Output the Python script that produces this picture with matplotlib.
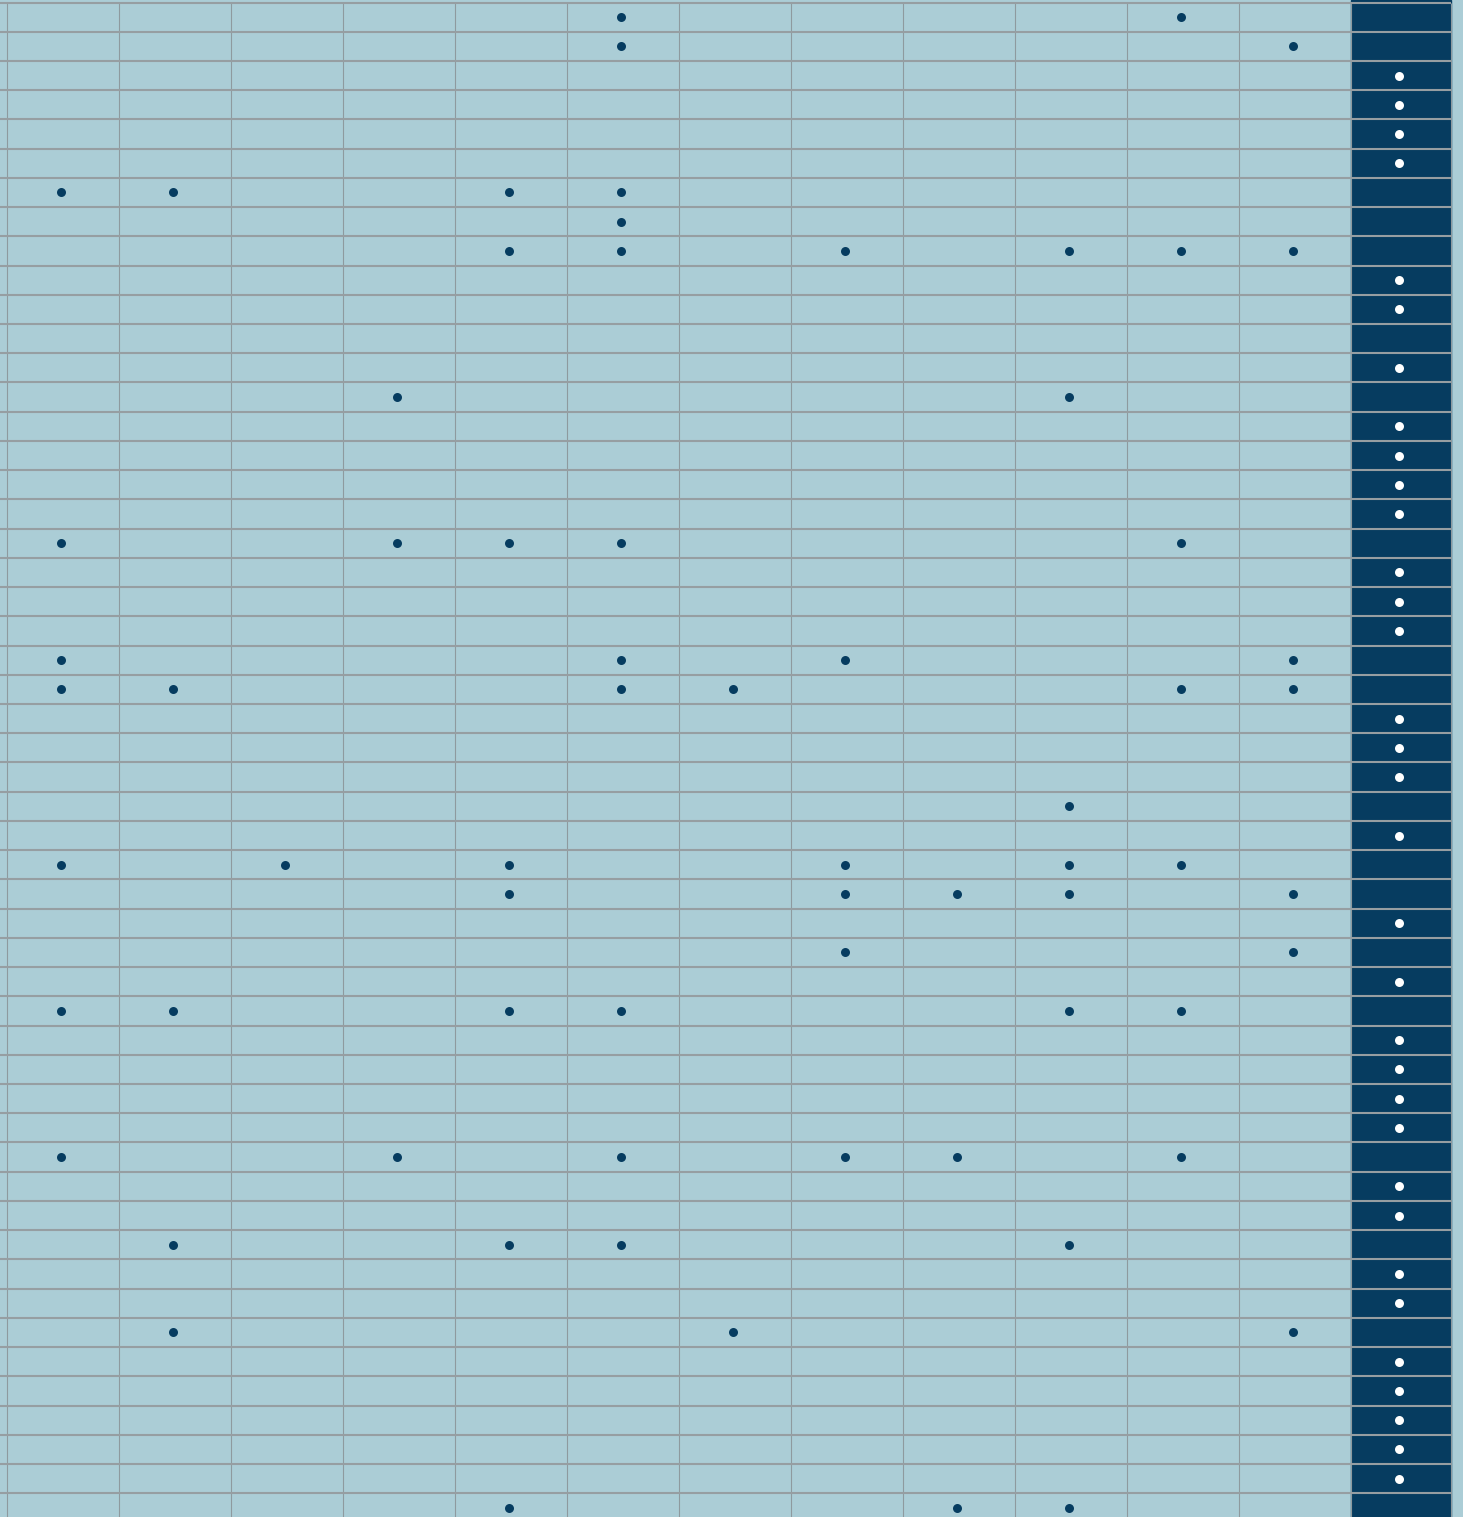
import matplotlib
matplotlib.use("Agg")
import matplotlib.pyplot as plt
import numpy as np

# one list per row: which of the 12 light columns carry a dot
row_members = [
    [5, 10], [5, 11], [], [], [], [], [0, 1, 4, 5], [5],
    [4, 5, 7, 9, 10, 11], [], [], [], [], [3, 9], [], [],
    [], [], [0, 3, 4, 5, 10], [], [], [], [0, 5, 7, 11], [0, 1, 5, 6, 10, 11],
    [], [], [], [9], [], [0, 2, 4, 7, 9, 10], [4, 7, 8, 9, 11], [],
    [7, 11], [], [0, 1, 4, 5, 9, 10], [], [], [], [], [0, 3, 5, 7, 8, 10],
    [], [], [1, 4, 5, 9], [], [], [1, 6, 11], [], [],
    [], [], [], [4, 8, 9],
]
# white dot in the dark column (rows with no membership, except row 11)
dark_dot = [len(m) == 0 for m in row_members]
dark_dot[11] = False

n_cols = 12
n_rows = len(row_members)
light = "#abcdd6"
dark = "#063c60"

fig = plt.figure(figsize=(14.63, 15.17), dpi=100, facecolor=light)
ax = fig.add_axes([0, 0, 1, 1])
ax.set_facecolor(light)

x_left = -7 / 112
dark_w = 100 / 112
ax.axvspan(n_cols, n_cols + dark_w, color=dark, zorder=1)

# grid
ax.vlines(np.arange(n_cols + 1), 0, n_rows, color="#8e9a9f", lw=0.8, zorder=2)
ax.vlines([n_cols + dark_w], 0, n_rows, color="#8e9a9f", lw=0.8, zorder=2)
ax.hlines(np.arange(n_rows + 1), x_left, n_cols + dark_w, color="#969ea2", lw=1.5, zorder=2)

xs, ys = [], []
for r, cols in enumerate(row_members):
    for c in cols:
        xs.append(c + 0.48)
        ys.append(r + 0.5)
ax.scatter(xs, ys, s=42, color=dark, zorder=3, linewidths=0)

dy = [r + 0.5 for r, f in enumerate(dark_dot) if f]
ax.scatter([n_cols + dark_w / 2 - 0.02] * len(dy), dy, s=42, color="white", zorder=3, linewidths=0)

ax.set_xlim(x_left, (1463 - 7) / 112)
ax.set_ylim((1517 - 2.5) / 29.23, -2.5 / 29.23)
ax.axis("off")

fig.savefig("out.png", dpi=100, facecolor=light)
